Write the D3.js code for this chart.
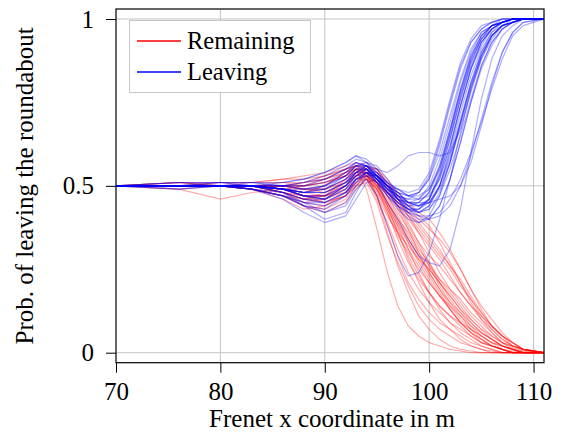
<!DOCTYPE html>
<html>
<head>
<meta charset="utf-8">
<script src="https://cdn.jsdelivr.net/npm/d3@7"></script>
</head>
<body style="margin:0">
<svg id="chart" width="563" height="433"></svg>
<script>
// Frenet x positions (m) at which each trajectory's probability is sampled
const xPositions = [70, 76, 80, 83, 86, 88, 90, 92, 93, 94, 95, 96, 97, 98, 99, 100, 101, 102, 103, 104, 105, 106, 107, 108, 109, 111];

// Probability of leaving, trajectories of vehicles that stay in the roundabout
const remaining = [
  [0.50,0.50,0.50,0.50,0.49,0.47,0.47,0.52,0.55,0.54,0.47,0.36,0.26,0.18,0.11,0.07,0.04,0.02,0.01,0.005,0,0,0,0,0,0],
  [0.50,0.51,0.50,0.50,0.50,0.49,0.50,0.54,0.56,0.55,0.51,0.44,0.36,0.28,0.21,0.15,0.10,0.07,0.04,0.02,0.01,0.005,0,0,0,0],
  [0.50,0.50,0.50,0.49,0.47,0.45,0.46,0.50,0.53,0.54,0.52,0.47,0.42,0.37,0.32,0.26,0.20,0.15,0.11,0.07,0.04,0.02,0.01,0.005,0,0],
  [0.50,0.49,0.46,0.48,0.49,0.50,0.51,0.53,0.55,0.53,0.48,0.42,0.35,0.30,0.25,0.21,0.17,0.13,0.09,0.06,0.03,0.02,0.01,0,0,0],
  [0.50,0.50,0.50,0.51,0.52,0.53,0.54,0.56,0.57,0.55,0.50,0.45,0.40,0.36,0.31,0.27,0.22,0.18,0.14,0.10,0.07,0.05,0.03,0.015,0.005,0],
  [0.50,0.50,0.50,0.49,0.46,0.43,0.44,0.48,0.52,0.52,0.49,0.44,0.38,0.31,0.24,0.18,0.13,0.09,0.06,0.04,0.02,0.01,0,0,0,0],
  [0.50,0.50,0.51,0.50,0.49,0.48,0.49,0.52,0.54,0.55,0.53,0.50,0.46,0.42,0.39,0.35,0.31,0.26,0.21,0.16,0.11,0.07,0.04,0.02,0.01,0],
  [0.50,0.50,0.50,0.50,0.48,0.46,0.45,0.47,0.50,0.51,0.45,0.35,0.27,0.20,0.14,0.10,0.07,0.05,0.03,0.02,0.01,0,0,0,0,0],
  [0.50,0.49,0.50,0.50,0.50,0.51,0.52,0.55,0.56,0.56,0.54,0.49,0.43,0.37,0.30,0.24,0.19,0.15,0.12,0.09,0.06,0.04,0.02,0.01,0,0],
  [0.50,0.50,0.50,0.49,0.47,0.44,0.42,0.45,0.49,0.52,0.51,0.48,0.45,0.41,0.36,0.30,0.24,0.19,0.15,0.11,0.08,0.05,0.03,0.01,0.005,0],
  [0.50,0.51,0.51,0.51,0.51,0.50,0.51,0.53,0.54,0.52,0.46,0.39,0.31,0.24,0.19,0.15,0.12,0.09,0.07,0.05,0.03,0.02,0.01,0,0,0],
  [0.50,0.50,0.50,0.50,0.49,0.49,0.48,0.50,0.53,0.55,0.55,0.52,0.47,0.43,0.40,0.37,0.34,0.30,0.25,0.19,0.13,0.08,0.05,0.03,0.01,0],
  [0.50,0.50,0.50,0.50,0.48,0.47,0.46,0.48,0.51,0.53,0.50,0.46,0.40,0.34,0.29,0.24,0.19,0.14,0.10,0.07,0.05,0.03,0.01,0,0,0],
  [0.50,0.50,0.50,0.50,0.49,0.48,0.50,0.54,0.55,0.49,0.37,0.24,0.14,0.08,0.05,0.03,0.02,0.01,0.005,0,0,0,0,0,0,0],
  [0.50,0.50,0.50,0.50,0.50,0.50,0.52,0.54,0.55,0.54,0.51,0.47,0.44,0.40,0.36,0.32,0.28,0.23,0.18,0.14,0.10,0.07,0.04,0.02,0.01,0],
  [0.50,0.50,0.50,0.49,0.47,0.44,0.43,0.46,0.50,0.53,0.51,0.45,0.39,0.33,0.27,0.22,0.17,0.13,0.09,0.06,0.04,0.02,0.01,0,0,0],
  [0.50,0.50,0.51,0.51,0.52,0.52,0.53,0.55,0.56,0.53,0.47,0.41,0.36,0.32,0.28,0.25,0.21,0.17,0.13,0.09,0.06,0.04,0.02,0.01,0,0],
  [0.50,0.50,0.50,0.50,0.50,0.49,0.49,0.51,0.53,0.54,0.53,0.50,0.47,0.44,0.41,0.38,0.33,0.27,0.21,0.15,0.10,0.06,0.03,0.02,0.01,0],
  [0.50,0.50,0.50,0.49,0.48,0.47,0.47,0.49,0.52,0.53,0.49,0.42,0.34,0.27,0.22,0.18,0.14,0.11,0.08,0.05,0.03,0.02,0.01,0,0,0],
  [0.50,0.50,0.50,0.50,0.49,0.47,0.47,0.51,0.54,0.56,0.55,0.50,0.44,0.38,0.33,0.29,0.26,0.22,0.18,0.14,0.11,0.08,0.05,0.03,0.01,0],
  [0.50,0.50,0.50,0.50,0.48,0.45,0.44,0.47,0.50,0.52,0.49,0.43,0.36,0.29,0.23,0.18,0.14,0.11,0.09,0.07,0.05,0.03,0.02,0.01,0,0],
  [0.50,0.51,0.50,0.50,0.51,0.51,0.52,0.54,0.56,0.57,0.55,0.51,0.46,0.41,0.37,0.33,0.29,0.25,0.20,0.16,0.12,0.08,0.05,0.03,0.01,0],
  [0.50,0.50,0.50,0.50,0.50,0.49,0.49,0.52,0.54,0.54,0.50,0.44,0.38,0.33,0.28,0.23,0.18,0.13,0.09,0.06,0.04,0.02,0.01,0,0,0],
  [0.50,0.50,0.50,0.50,0.48,0.46,0.47,0.50,0.53,0.55,0.54,0.51,0.48,0.45,0.42,0.40,0.36,0.31,0.25,0.19,0.14,0.10,0.06,0.03,0.01,0],
  [0.50,0.50,0.50,0.50,0.49,0.48,0.47,0.48,0.51,0.52,0.47,0.38,0.29,0.21,0.16,0.12,0.09,0.07,0.05,0.03,0.02,0.01,0,0,0,0],
  [0.50,0.50,0.50,0.50,0.50,0.50,0.51,0.53,0.55,0.55,0.52,0.47,0.41,0.35,0.30,0.26,0.22,0.19,0.16,0.12,0.09,0.06,0.03,0.02,0.01,0],
  [0.50,0.50,0.50,0.49,0.47,0.46,0.48,0.51,0.53,0.53,0.51,0.48,0.44,0.39,0.33,0.27,0.21,0.16,0.12,0.08,0.05,0.03,0.02,0.01,0,0],
  [0.50,0.51,0.50,0.50,0.50,0.51,0.53,0.55,0.56,0.54,0.49,0.43,0.37,0.31,0.26,0.21,0.17,0.14,0.11,0.08,0.06,0.04,0.02,0.01,0,0],
  [0.50,0.50,0.50,0.50,0.49,0.47,0.45,0.47,0.51,0.54,0.53,0.49,0.45,0.42,0.38,0.34,0.30,0.26,0.22,0.17,0.12,0.08,0.05,0.02,0.01,0],
  [0.50,0.50,0.50,0.50,0.48,0.46,0.46,0.49,0.52,0.53,0.50,0.45,0.39,0.34,0.29,0.25,0.21,0.17,0.13,0.10,0.07,0.04,0.02,0.01,0,0]
];

// Probability of leaving, trajectories of vehicles that take the exit
const leaving = [
  [0.50,0.50,0.50,0.50,0.49,0.48,0.50,0.54,0.57,0.56,0.52,0.49,0.47,0.46,0.46,0.49,0.56,0.67,0.79,0.89,0.95,0.98,0.99,1,1,1],
  [0.50,0.51,0.50,0.51,0.50,0.51,0.53,0.56,0.58,0.57,0.54,0.50,0.46,0.43,0.42,0.44,0.50,0.61,0.74,0.85,0.93,0.97,0.99,1,1,1],
  [0.50,0.50,0.50,0.49,0.47,0.44,0.43,0.47,0.52,0.54,0.53,0.50,0.48,0.45,0.44,0.46,0.53,0.64,0.76,0.87,0.94,0.97,0.99,1,1,1],
  [0.50,0.50,0.50,0.50,0.48,0.44,0.40,0.42,0.48,0.53,0.53,0.50,0.46,0.42,0.40,0.40,0.44,0.52,0.63,0.75,0.86,0.93,0.97,0.99,1,1],
  [0.50,0.50,0.51,0.51,0.51,0.52,0.54,0.57,0.59,0.58,0.55,0.51,0.49,0.48,0.49,0.54,0.64,0.76,0.87,0.94,0.98,0.99,1,1,1,1],
  [0.50,0.50,0.50,0.50,0.49,0.47,0.46,0.49,0.53,0.55,0.52,0.48,0.44,0.41,0.39,0.40,0.44,0.52,0.63,0.75,0.85,0.92,0.97,0.99,1,1],
  [0.50,0.49,0.50,0.50,0.50,0.50,0.51,0.54,0.56,0.55,0.53,0.51,0.49,0.47,0.46,0.47,0.52,0.62,0.74,0.85,0.93,0.97,0.99,1,1,1],
  [0.50,0.50,0.50,0.49,0.47,0.45,0.44,0.47,0.51,0.54,0.52,0.48,0.45,0.43,0.43,0.45,0.50,0.58,0.69,0.80,0.89,0.95,0.98,0.99,1,1],
  [0.50,0.50,0.50,0.50,0.49,0.47,0.46,0.50,0.54,0.56,0.55,0.54,0.56,0.59,0.60,0.60,0.59,0.60,0.67,0.78,0.88,0.95,0.98,0.99,1,1],
  [0.50,0.50,0.50,0.50,0.48,0.45,0.42,0.44,0.49,0.52,0.47,0.38,0.29,0.23,0.24,0.30,0.40,0.52,0.66,0.79,0.89,0.95,0.98,0.99,1,1],
  [0.50,0.50,0.50,0.50,0.50,0.49,0.50,0.53,0.56,0.57,0.56,0.52,0.48,0.45,0.44,0.45,0.49,0.57,0.68,0.79,0.88,0.94,0.98,0.99,1,1],
  [0.50,0.51,0.51,0.50,0.49,0.48,0.48,0.51,0.55,0.56,0.53,0.49,0.46,0.44,0.45,0.48,0.56,0.67,0.79,0.89,0.95,0.98,0.99,1,1,1],
  [0.50,0.50,0.50,0.50,0.49,0.47,0.47,0.50,0.53,0.54,0.52,0.49,0.46,0.43,0.41,0.40,0.41,0.44,0.50,0.59,0.70,0.81,0.90,0.96,0.99,1],
  [0.50,0.50,0.50,0.49,0.46,0.42,0.39,0.41,0.46,0.51,0.52,0.50,0.47,0.45,0.45,0.48,0.55,0.66,0.78,0.88,0.94,0.98,0.99,1,1,1],
  [0.50,0.50,0.50,0.50,0.51,0.52,0.54,0.57,0.59,0.57,0.53,0.48,0.44,0.42,0.43,0.46,0.54,0.66,0.78,0.88,0.95,0.98,1,1,1,1],
  [0.50,0.50,0.50,0.50,0.49,0.47,0.46,0.50,0.54,0.55,0.51,0.45,0.40,0.34,0.29,0.27,0.26,0.31,0.43,0.60,0.76,0.88,0.95,0.98,1,1],
  [0.50,0.50,0.50,0.50,0.49,0.48,0.49,0.52,0.55,0.55,0.52,0.49,0.47,0.46,0.48,0.53,0.63,0.75,0.86,0.93,0.97,0.99,1,1,1,1],
  [0.50,0.50,0.50,0.49,0.48,0.46,0.45,0.48,0.52,0.54,0.53,0.50,0.47,0.44,0.42,0.43,0.47,0.55,0.65,0.76,0.86,0.93,0.97,0.99,1,1],
  [0.50,0.50,0.51,0.51,0.50,0.50,0.52,0.55,0.57,0.56,0.53,0.50,0.48,0.47,0.47,0.49,0.55,0.65,0.77,0.87,0.94,0.98,0.99,1,1,1],
  [0.50,0.50,0.50,0.50,0.48,0.46,0.45,0.48,0.52,0.53,0.51,0.47,0.44,0.42,0.41,0.41,0.42,0.46,0.52,0.60,0.69,0.79,0.88,0.95,0.98,1],
  [0.50,0.50,0.50,0.50,0.49,0.48,0.48,0.51,0.54,0.56,0.54,0.50,0.46,0.44,0.44,0.46,0.52,0.62,0.74,0.85,0.92,0.97,0.99,1,1,1],
  [0.50,0.50,0.50,0.50,0.50,0.49,0.49,0.52,0.55,0.55,0.52,0.48,0.45,0.43,0.43,0.46,0.53,0.64,0.76,0.86,0.93,0.97,0.99,1,1,1],
  [0.50,0.50,0.50,0.50,0.49,0.48,0.49,0.53,0.56,0.56,0.53,0.50,0.49,0.47,0.48,0.52,0.62,0.74,0.85,0.93,0.97,0.99,1,1,1,1],
  [0.50,0.50,0.50,0.49,0.47,0.45,0.45,0.48,0.52,0.54,0.51,0.47,0.43,0.40,0.39,0.41,0.47,0.57,0.69,0.81,0.90,0.95,0.98,0.99,1,1],
  [0.50,0.50,0.50,0.50,0.49,0.48,0.48,0.51,0.54,0.54,0.51,0.48,0.46,0.45,0.45,0.45,0.46,0.47,0.50,0.57,0.68,0.80,0.90,0.96,0.99,1],
  [0.50,0.49,0.50,0.50,0.50,0.51,0.52,0.55,0.57,0.56,0.53,0.49,0.46,0.45,0.46,0.50,0.58,0.69,0.81,0.90,0.96,0.98,0.99,1,1,1],
  [0.50,0.50,0.50,0.50,0.48,0.46,0.46,0.49,0.53,0.55,0.53,0.50,0.47,0.45,0.44,0.45,0.50,0.60,0.72,0.83,0.91,0.96,0.98,1,1,1],
  [0.50,0.51,0.51,0.50,0.49,0.49,0.50,0.53,0.56,0.56,0.53,0.50,0.48,0.47,0.48,0.52,0.60,0.71,0.82,0.91,0.96,0.98,0.99,1,1,1],
  [0.50,0.50,0.50,0.49,0.47,0.44,0.42,0.45,0.50,0.54,0.54,0.51,0.47,0.44,0.42,0.43,0.48,0.57,0.69,0.80,0.89,0.95,0.98,0.99,1,1],
  [0.50,0.50,0.50,0.50,0.49,0.47,0.47,0.50,0.54,0.55,0.52,0.48,0.45,0.43,0.42,0.44,0.50,0.59,0.70,0.81,0.90,0.96,0.99,1,1,1]
];

const xTicks = [70, 80, 90, 100, 110];
const yTicks = [0, 0.5, 1];
const yTickLabels = ["0", "0.5", "1"];
const seriesNames = ["Remaining", "Leaving"];
const seriesColors = ["#ff0000", "#0000ff"];
const xLabel = "Frenet x coordinate in m";
const yLabel = "Prob. of leaving the roundabout";

const svg = d3.select("#chart");
const plot = { left: 116, right: 544, top: 9, bottom: 362.7 };

// every label uses the same serif face
function serifText(sel, size) {
  return sel.attr("font-family", "Liberation Serif")
    .attr("font-size", size)
    .style("font-family", "'Liberation Serif'")
    .style("font-size", size + "px")
    .attr("fill", "#000");
}

const x = d3.scaleLinear().domain([70, 111]).range([plot.left, plot.right]);
const y = d3.scaleLinear().domain([-0.03, 1.03]).range([plot.bottom, plot.top]);

svg.append("defs").append("clipPath").attr("id", "plot-clip")
  .append("rect")
  .attr("x", plot.left).attr("y", plot.top)
  .attr("width", plot.right - plot.left).attr("height", plot.bottom - plot.top);

// grid
const grid = svg.append("g").attr("stroke", "#c4c4c4").attr("stroke-width", 1);
grid.selectAll("line.gx").data(xTicks.filter(d => d > 70)).join("line")
  .attr("x1", d => x(d)).attr("x2", d => x(d))
  .attr("y1", plot.top).attr("y2", plot.bottom);
grid.selectAll("line.gy").data(yTicks).join("line")
  .attr("x1", plot.left).attr("x2", plot.right)
  .attr("y1", d => y(d)).attr("y2", d => y(d));

// trajectories
const line = d3.line()
  .x((d, i) => x(xPositions[i]))
  .y(d => y(d));

const curves = svg.append("g").attr("clip-path", "url(#plot-clip)").attr("fill", "none");
[remaining, leaving].forEach((set, k) => {
  curves.append("g")
    .attr("stroke", seriesColors[k])
    .attr("stroke-opacity", 0.32)
    .attr("stroke-width", 1.2)
    .attr("stroke-linejoin", "round")
    .selectAll("path").data(set).join("path")
    .attr("d", line);
});

// axes
const xAxis = d3.axisBottom(x).tickValues(xTicks).tickSize(10).tickPadding(9.5).tickFormat(d3.format("d"));
const gx = svg.append("g").attr("transform", `translate(0,${plot.bottom})`).call(xAxis);
serifText(gx, 25);
gx.select(".domain").remove();
gx.selectAll(".tick line").attr("stroke", "#000");
serifText(gx.selectAll(".tick text"), 25);

const yAxis = d3.axisLeft(y).tickValues(yTicks).tickSize(10).tickPadding(12)
  .tickFormat((d, i) => yTickLabels[i]);
const gy = svg.append("g").attr("transform", `translate(${plot.left},0)`).call(yAxis);
serifText(gy, 25);
gy.select(".domain").remove();
gy.selectAll(".tick line").attr("stroke", "#000");
serifText(gy.selectAll(".tick text"), 25);

// frame
svg.append("rect")
  .attr("x", plot.left).attr("y", plot.top)
  .attr("width", plot.right - plot.left).attr("height", plot.bottom - plot.top)
  .attr("fill", "none").attr("stroke", "#000").attr("stroke-width", 1.2);

// axis titles
serifText(svg.append("text"), 25)
  .attr("x", (plot.left + plot.right) / 2 + 2).attr("y", 427)
  .attr("text-anchor", "middle")
  .text(xLabel);
serifText(svg.append("text"), 25)
  .attr("transform", `translate(33,${(plot.top + plot.bottom) / 2}) rotate(-90)`)
  .attr("text-anchor", "middle")
  .text(yLabel);

// legend
const legend = svg.append("g");
legend.append("rect")
  .attr("x", 129.5).attr("y", 20.5).attr("width", 181).attr("height", 72)
  .attr("fill", "#fff").attr("stroke", "#c8c8c8").attr("stroke-width", 1);
seriesNames.forEach((name, i) => {
  const ly = 41 + i * 31;
  legend.append("line")
    .attr("x1", 137).attr("x2", 181).attr("y1", ly).attr("y2", ly)
    .attr("stroke", seriesColors[i]).attr("stroke-width", 1.3);
  serifText(legend.append("text"), 24.5)
    .attr("x", 187).attr("y", ly + 7.5)
    .text(name);
});
</script>
</body>
</html>
